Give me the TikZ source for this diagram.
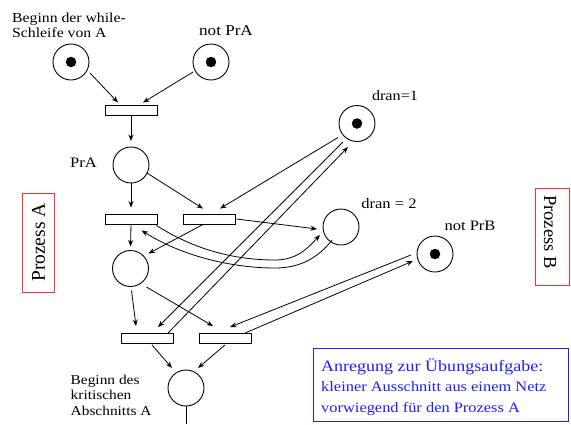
\documentclass[tikz,border=0pt]{standalone}
\usepackage{fontspec}
\setmainfont{Liberation Serif}[FakeStretch=1.14]
\newfontfamily\rotfont{Liberation Serif}
\usetikzlibrary{arrows.meta,calc}
\definecolor{noteblue}{RGB}{30,30,250}
\definecolor{boxred}{RGB}{250,50,50}
\tikzset{
  place/.style={circle,draw,line width=0.9pt,minimum size=36pt,inner sep=0pt},
  trans/.style={rectangle,draw,line width=0.9pt,minimum width=52pt,minimum height=10pt,inner sep=0pt},
  tok/.style={circle,fill=black,minimum size=10.5pt,inner sep=0pt},
  arc/.style={line width=0.8pt,-{Stealth[length=6.5pt,width=5pt]}},
  plain/.style={line width=0.8pt},
  lbl/.style={inner sep=0pt,font=\fontsize{14.5}{16}\selectfont},
  notetxt/.style={anchor=base west,inner sep=0pt,text=noteblue},
  sidebox/.style={draw=boxred,line width=0.9pt,inner sep=0pt}
}
\begin{document}
\begin{tikzpicture}[x=1pt,y=-1pt]
\useasboundingbox (0,0) rectangle (571,424);

% places
\node[place] (pBegin) at (71,62) {};
\node[tok] (tokBegin) at (pBegin) {};
\node[place] (pNotPrA) at (211,62) {};
\node[tok] (tokNotPrA) at (pNotPrA) {};
\node[place] (pPrA) at (131,165) {};
\node[place] (p4) at (130.5,268.5) {};
\node[place] (pDran1) at (357,123.5) {};
\node[tok] (tokDran1) at (pDran1) {};
\node[place] (pDran2) at (341,227) {};
\node[place] (pNotPrB) at (435,254) {};
\node[tok] (tokNotPrB) at (pNotPrB) {};
\node[place] (pCrit) at (186,388) {};
\coordinate (bottomEnd) at (186,424);

% transitions
\node[trans] (t1) at (131,110.5) {};
\node[trans] (t2) at (131,219) {};
\node[trans] (t3) at (209,219) {};
\node[trans] (t4) at (147,338.5) {};
\node[trans] (t5) at (225,338.5) {};

% labels
\node[inner sep=0pt,anchor=north west,align=left,font=\fontsize{13.8}{15}\selectfont] (lBegin) at (12,12.5) {Beginn der while-\\Schleife von A};
\node[lbl,anchor=base,font=\fontsize{15}{16}\selectfont] (lNotPrA) at (226,35) {not PrA};
\node[lbl,anchor=base] (lPrA) at (83.5,167) {PrA};
\node[lbl,anchor=base,font=\fontsize{14.2}{16}\selectfont] (lDran1) at (395,100) {dran=1};
\node[lbl,anchor=base] (lDran2) at (389,208) {dran = 2};
\node[lbl,anchor=base] (lNotPrB) at (470,230) {not PrB};
\node[inner sep=0pt,anchor=north west,align=left,font=\fontsize{13.5}{15.8}\selectfont] (lCrit) at (70.5,374.5) {Beginn des\\kritischen\\Abschnitts A};

% side boxes
\node[sidebox,minimum width=32pt,minimum height=99pt] (boxA) at (38,242.5) {};
\node[rotate=90,inner sep=0pt,font=\rotfont\fontsize{19.5}{20}\selectfont] (txtA) at (38.5,242.5) {Prozess A};
\node[sidebox,minimum width=34pt,minimum height=97pt] (boxB) at (552.5,236.5) {};
\node[rotate=-90,inner sep=0pt,font=\rotfont\fontsize{18.5}{20}\selectfont] (txtB) at (550,232) {Prozess B};

% note
\node[draw=noteblue,line width=0.9pt,minimum width=255pt,minimum height=73pt,inner sep=0pt] (note) at (440.5,384.5) {};
\node[notetxt,font=\fontsize{15.8}{18}\selectfont] (noteL1) at (321,371) {Anregung zur Übungsaufgabe:};
\node[notetxt,font=\fontsize{14.4}{18}\selectfont] (noteL2) at (321,391.7) {kleiner Ausschnitt aus einem Netz};
\node[notetxt,font=\fontsize{14.4}{18}\selectfont] (noteL3) at (321,412.5) {vorwiegend für den Prozess A};

% arcs
\draw[arc] ($(pBegin)+(19,11)$) -- ($(t1.north)+(-13,-2.5)$);
\draw[arc] ($(pNotPrA)+(-18,10)$) -- ($(t1.north)+(12,-2.5)$);
\draw[arc] (t1.south) -- ($(pPrA)+(0,-24)$);
\draw[arc] (pPrA.south) -- ($(t2.north)+(0,-6)$);
\draw[arc] ($(pPrA)+(16,8)$) -- ($(t3.north)+(-6,-5)$);
\draw[arc] ($(pDran1)+(-19,14)$) -- ($(t3.north)+(11,-5)$);
\draw[arc] (t2.south) -- ($(p4)+(0,-22)$);
\draw[arc] ($(t3.south)+(-6,0)$) -- ($(p4)+(18,-15)$);
\draw[arc] ($(t3.east)+(1,0)$) -- ($(pDran2)+(-24,2)$);
\draw[arc] ($(t2.south east)+(-1,1)$) .. controls (195,250) and (235,260) .. (275,260)
           .. controls (297,260) and (308,248) .. ($(pDran2)+(-21,8)$);
\draw[arc] ($(pDran2)+(-9,13)$) .. controls (318,258) and (300,268) .. (275,268)
           .. controls (230,268) and (180,255) .. ($(t2.south)+(10.7,6)$);
\draw[arc] ($(pDran1)+(-14,18.5)$) -- ($(t4.north)+(11,-6)$);
\draw[arc] ($(t4.north)+(21,0)$) -- ($(pDran1)+(-9,23.5)$);
\draw[arc] ($(pNotPrB)+(-24,1)$) -- ($(t5.north)+(5,-6)$);
\draw[arc] ($(t5.north)+(20,0)$) -- ($(pNotPrB)+(-22,7)$);
\draw[arc] ($(p4)+(1,22)$) -- ($(t4.north)+(-11,-7)$);
\draw[arc] ($(p4)+(16,18.5)$) -- ($(t5.north)+(-12,-7)$);
\draw[arc] ($(t4.south)+(5,1)$) -- ($(pCrit)+(-14,-20)$);
\draw[arc] ($(t5.south)+(0,1)$) -- ($(pCrit)+(12,-20)$);
\draw[plain] (pCrit.south) -- (bottomEnd);
\end{tikzpicture}
\end{document}
